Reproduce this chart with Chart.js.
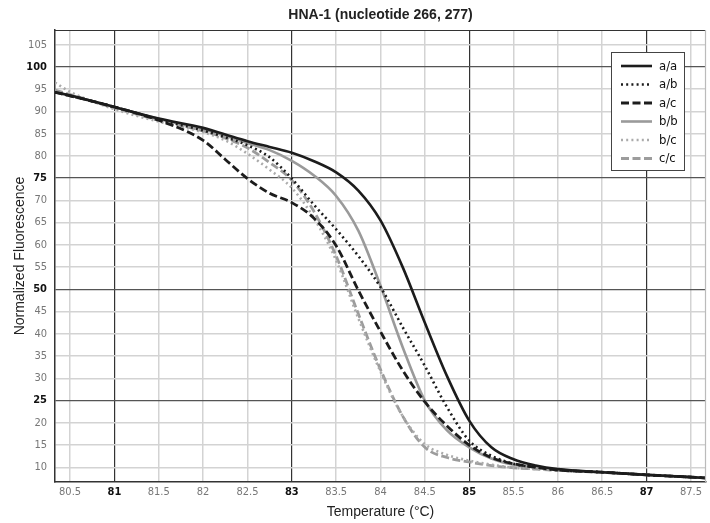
<!DOCTYPE html>
<html><head><meta charset="utf-8">
<script src="https://cdn.jsdelivr.net/npm/chart.js@4/dist/chart.umd.min.js"></script>
<style>html,body{margin:0;padding:0;background:#fff;} #wrap{width:710px;height:523px;}</style>
</head><body><div id="wrap"><canvas id="c" width="710" height="523"></canvas></div>
<script>
const TITLE = 'HNA-1 (nucleotide 266, 277)';
const X_TITLE = 'Temperature (°C)';
const Y_TITLE = 'Normalized Fluorescence';

const temperatures = [80.33, 80.5, 81, 81.5, 82, 82.25, 82.5, 82.75, 83, 83.25, 83.5, 83.75, 84, 84.25, 84.5, 84.75, 85, 85.25, 85.5, 85.75, 86, 86.5, 87, 87.5, 87.67];
const genotypes = ['a/a', 'a/b', 'a/c', 'b/b', 'b/c', 'c/c'];
const fluorAA = [94.3, 93.6, 91.0, 88.4, 86.3, 84.8, 83.3, 82.0, 80.7, 78.8, 76.3, 72.2, 65.5, 55.0, 42.5, 30.5, 20.5, 14.5, 11.8, 10.4, 9.6, 8.9, 8.3, 7.8, 7.6];
const fluorAB = [94.3, 93.5, 91.0, 88.2, 85.7, 84.2, 82.4, 79.7, 74.9, 69.0, 63.5, 57.5, 50.5, 41.5, 32.8, 23.5, 16.0, 12.6, 10.8, 10.0, 9.4, 8.9, 8.3, 7.8, 7.6];
const fluorAC = [94.3, 93.5, 91.0, 88.0, 83.5, 79.2, 74.9, 71.6, 69.5, 66.0, 59.8, 49.8, 40.5, 31.8, 24.7, 19.3, 15.0, 12.2, 10.8, 10.0, 9.4, 8.9, 8.3, 7.8, 7.6];
const fluorBB = [94.3, 93.6, 91.0, 88.3, 86.0, 84.5, 82.9, 81.3, 78.9, 75.6, 71.0, 63.2, 50.8, 37.0, 25.0, 18.3, 14.5, 12.0, 10.6, 10.0, 9.4, 8.9, 8.3, 7.8, 7.6];
const fluorBC = [96.5, 94.4, 90.5, 87.7, 85.3, 83.5, 80.5, 76.9, 72.8, 66.0, 56.5, 43.5, 31.5, 21.5, 15.2, 12.8, 11.5, 10.6, 9.9, 9.6, 9.3, 8.9, 8.3, 7.8, 7.6];
const fluorCC = [94.8, 93.8, 90.8, 88.0, 85.6, 84.0, 81.8, 78.5, 74.5, 67.5, 57.5, 44.5, 32.0, 21.5, 14.5, 12.2, 11.2, 10.4, 9.9, 9.6, 9.3, 8.9, 8.3, 7.8, 7.6];

const xTicks = [80.5, 81, 81.5, 82, 82.5, 83, 83.5, 84, 84.5, 85, 85.5, 86, 86.5, 87, 87.5];
const yTicks = [10, 15, 20, 25, 30, 35, 40, 45, 50, 55, 60, 65, 70, 75, 80, 85, 90, 95, 100, 105];
const xMajor = [81, 83, 85, 87];
const yMajor = [25, 50, 75, 100];

const seriesValues = [fluorAA, fluorAB, fluorAC, fluorBB, fluorBC, fluorCC];
const seriesStyles = [
  {color: '#1c1c1c', width: 2.6, dash: []},
  {color: '#1c1c1c', width: 2.6, dash: [2, 3.2]},
  {color: '#1c1c1c', width: 2.8, dash: [8, 3.5]},
  {color: '#9a9a9a', width: 2.6, dash: []},
  {color: '#ababab', width: 2.6, dash: [2, 3.2]},
  {color: '#9c9c9c', width: 2.8, dash: [8, 3.5]}
];

const NARROW = "'Liberation Sans Narrow', 'DejaVu Sans Condensed', 'Arial Narrow', sans-serif";
const SANS = "'Liberation Sans', Arial, Helvetica, sans-serif";

const datasets = genotypes.map((g, i) => ({
  label: g,
  data: temperatures.map((t, j) => ({x: t, y: seriesValues[i][j]})),
  borderColor: seriesStyles[i].color,
  borderWidth: seriesStyles[i].width,
  borderDash: seriesStyles[i].dash,
  borderCapStyle: 'butt',
  borderJoinStyle: 'round',
  pointRadius: 0,
  fill: false,
  cubicInterpolationMode: 'monotone'
}));

const isMaj = (arr, c) => {
  if (!c || !c.tick) return false;
  const v = c.tick.value;
  return arr.some(m => Math.abs(m - v) < 1e-6);
};

const decorPlugin = {
  id: 'decor',
  afterDraw(chart) {
    const ctx = chart.ctx;
    const a = chart.chartArea;
    ctx.save();
    ctx.strokeStyle = '#333';
    ctx.lineWidth = 1.2;
    ctx.beginPath();
    ctx.moveTo(a.left, a.top + 0.5);
    ctx.lineTo(a.right, a.top + 0.5);
    ctx.stroke();
    ctx.strokeStyle = '#bbb';
    ctx.beginPath();
    ctx.moveTo(a.right - 0.5, a.top);
    ctx.lineTo(a.right - 0.5, a.bottom);
    ctx.stroke();
    ctx.fillStyle = '#222';
    ctx.font = "bold 14px " + SANS;
    ctx.textAlign = 'center';
    ctx.textBaseline = 'middle';
    ctx.fillText(TITLE, (a.left + a.right) / 2, 15);
    const bx = 611.5, by = 52.5, bw = 73, bh = 118;
    ctx.fillStyle = '#fff';
    ctx.fillRect(bx, by, bw, bh);
    ctx.strokeStyle = '#444';
    ctx.lineWidth = 1;
    ctx.strokeRect(bx, by, bw, bh);
    chart.data.datasets.forEach((ds, i) => {
      const y = 66 + i * 18.5;
      ctx.strokeStyle = ds.borderColor;
      ctx.lineWidth = ds.borderWidth;
      ctx.setLineDash(ds.borderDash);
      ctx.lineCap = 'butt';
      ctx.beginPath();
      ctx.moveTo(621, y);
      ctx.lineTo(652, y);
      ctx.stroke();
      ctx.setLineDash([]);
      ctx.fillStyle = '#111';
      ctx.font = "13px " + NARROW;
      ctx.textAlign = 'left';
      ctx.textBaseline = 'middle';
      ctx.fillText(ds.label, 659, y + 0.5);
    });
    ctx.restore();
  }
};

new Chart(document.getElementById('c'), {
  type: 'line',
  data: {datasets},
  plugins: [decorPlugin],
  options: {
    responsive: false,
    devicePixelRatio: 1,
    animation: false,
    layout: {padding: {top: 30, right: 4, left: 0, bottom: 0}},
    plugins: {legend: {display: false}, tooltip: {enabled: false}, title: {display: false}},
    scales: {
      x: {
        type: 'linear',
        min: 80.33,
        max: 87.67,
        afterBuildTicks: s => { s.ticks = xTicks.map(v => ({value: v})); },
        afterFit: s => { s.height = 41; },
        grid: {
          drawTicks: false,
          color: c => isMaj(xMajor, c) ? '#333' : '#d3d3d3',
          lineWidth: c => isMaj(xMajor, c) ? 1.2 : 1.5
        },
        border: {color: '#333', width: 1.5},
        ticks: {
          padding: 4,
          maxRotation: 0,
          autoSkip: false,
          callback: v => String(v),
          color: c => isMaj(xMajor, c) ? '#111' : '#777',
          font: c => ({family: NARROW, size: 11, weight: isMaj(xMajor, c) ? 'bold' : 'normal'})
        },
        title: {display: true, text: X_TITLE, color: '#222', font: {family: SANS, size: 14}, padding: {top: 0, bottom: 2.6}}
      },
      y: {
        type: 'linear',
        min: 6.7,
        max: 108.3,
        afterBuildTicks: s => { s.ticks = yTicks.map(v => ({value: v})); },
        afterFit: s => { s.width = 55; },
        grid: {
          drawTicks: false,
          color: c => isMaj(yMajor, c) ? '#555' : '#d3d3d3',
          lineWidth: c => isMaj(yMajor, c) ? 1.3 : 1.5
        },
        border: {color: '#333', width: 1.5},
        ticks: {
          padding: 8,
          autoSkip: false,
          callback: v => String(v),
          color: c => isMaj(yMajor, c) ? '#111' : '#777',
          font: c => ({family: NARROW, size: 11, weight: isMaj(yMajor, c) ? 'bold' : 'normal'})
        },
        title: {display: true, text: Y_TITLE, color: '#222', font: {family: SANS, size: 14}, padding: {top: 11.6, bottom: 0}}
      }
    }
  }
});
</script>
</body></html>
